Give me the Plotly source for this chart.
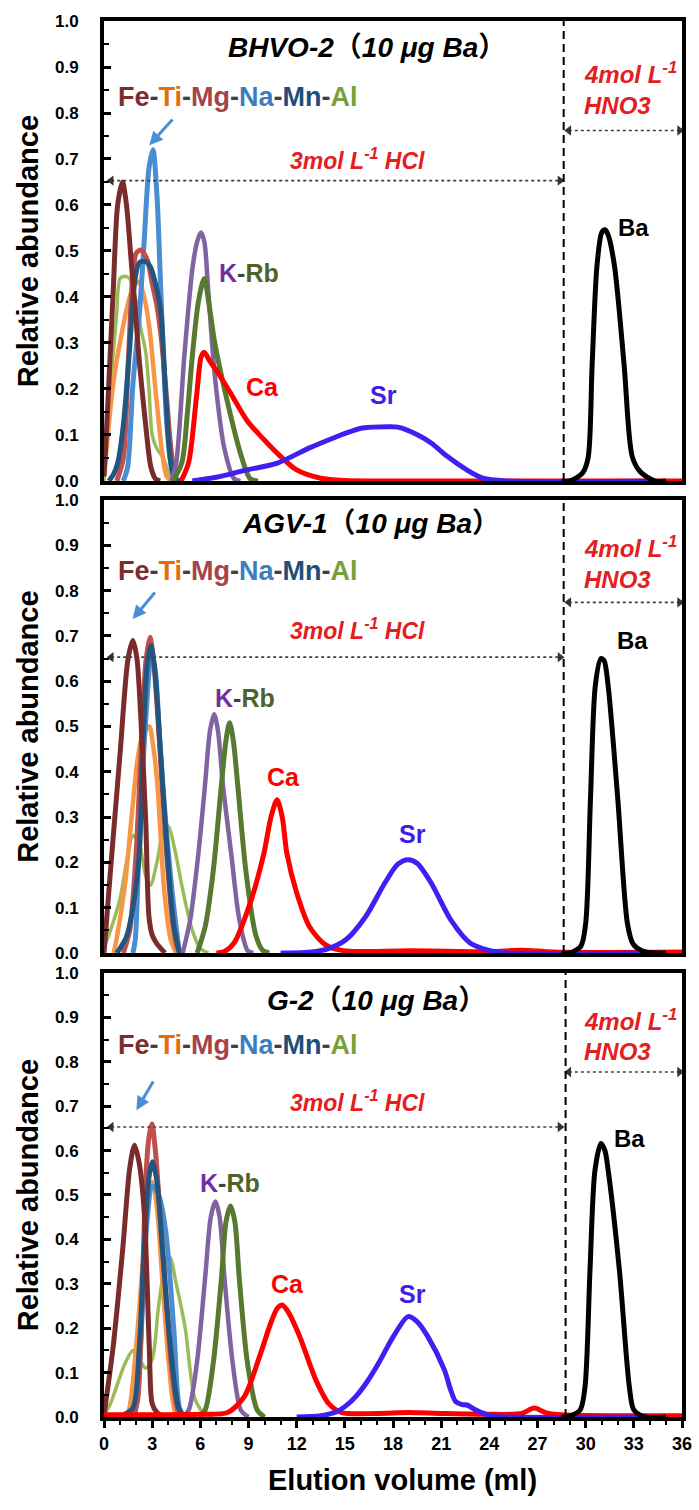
import plotly.graph_objects as go

# ---------------- data (elution volume ml, relative abundance) ----------------
# BHVO-2
bh_fe_v = [0, 0.06, 0.27, 0.57, 0.85, 1.15, 1.4, 1.69, 1.95, 2.2, 2.6, 2.92, 3.2, 3.5]
bh_fe_a = [0.01, 0.045, 0.19, 0.41, 0.6, 0.65, 0.6, 0.48, 0.37, 0.26, 0.12, 0.03, 0.005, 0]
bh_ti_v = [0, 0.16, 0.5, 0.78, 1.1, 1.39, 1.8, 2.16, 2.5, 2.82, 3.23, 3.63, 3.9, 4.2]
bh_ti_a = [0.01, 0.07, 0.19, 0.26, 0.32, 0.37, 0.42, 0.433, 0.4, 0.335, 0.19, 0.06, 0.01, 0]
bh_mg_v = [0.8, 1.2, 1.5, 1.8, 2.0, 2.3, 2.7, 3.0, 3.3, 3.6, 3.9, 4.2, 4.5, 4.8]
bh_mg_a = [0, 0.05, 0.25, 0.45, 0.495, 0.502, 0.48, 0.43, 0.38, 0.3, 0.18, 0.06, 0.005, 0]
bh_na_v = [1.2, 1.47, 1.8, 2.2, 2.5, 2.8, 3.05, 3.3, 3.5, 3.7, 3.94, 4.2, 4.5]
bh_na_a = [0, 0.03, 0.21, 0.36, 0.52, 0.68, 0.72, 0.62, 0.45, 0.27, 0.11, 0.03, 0]
bh_mn_v = [0.3, 0.6, 0.86, 1.2, 1.59, 1.9, 2.2, 2.6, 2.9, 3.2, 3.53, 3.84, 4.14, 4.4, 4.7]
bh_mn_a = [0, 0.015, 0.04, 0.12, 0.285, 0.43, 0.475, 0.477, 0.465, 0.43, 0.37, 0.19, 0.045, 0.005, 0]
bh_al_v = [0, 0.16, 0.37, 0.78, 1.0, 1.3, 1.6, 2.0, 2.3, 2.6, 2.8, 3.0, 3.3, 3.7, 4.0, 4.3]
bh_al_a = [0, 0.07, 0.19, 0.36, 0.44, 0.445, 0.44, 0.39, 0.33, 0.28, 0.2, 0.1, 0.07, 0.05, 0.02, 0]
bh_k_v = [4.2, 4.5, 5.0, 5.5, 5.8, 6.04, 6.25, 6.5, 6.9, 7.5, 8.1, 8.5]
bh_k_a = [0, 0.04, 0.27, 0.46, 0.52, 0.54, 0.52, 0.41, 0.23, 0.07, 0.005, 0]
bh_rb_v = [4.3, 4.85, 5.2, 5.47, 5.88, 6.24, 6.6, 6.9, 7.7, 8.5, 9.1, 9.6]
bh_rb_a = [0, 0.04, 0.15, 0.26, 0.39, 0.44, 0.37, 0.3, 0.17, 0.06, 0.005, 0]
bh_ca_v = [4.8, 5.27, 5.78, 6.05, 6.24, 6.6, 7.1, 7.9, 8.94, 9.96, 10.8, 12.0, 13.5, 15, 17, 36]
bh_ca_a = [0, 0.04, 0.19, 0.27, 0.28, 0.26, 0.235, 0.19, 0.13, 0.09, 0.06, 0.024, 0.006, 0.001, 0, 0]
bh_sr_v = [5.5, 7, 8.9, 10.8, 12.8, 14.25, 15.06, 16.1, 17.7, 18.3, 19.55, 20.4, 21.4, 22.6, 23.6, 25, 34]
bh_sr_a = [0, 0.008, 0.024, 0.039, 0.072, 0.093, 0.104, 0.115, 0.118, 0.117, 0.1, 0.082, 0.053, 0.024, 0.006, 0, 0]
bh_ba_v = [28.5, 29.0, 29.8, 30.15, 30.4, 30.7, 31.0, 31.2, 31.4, 31.8, 32.4, 32.9, 33.4, 34.3, 35]
bh_ba_a = [0, 0, 0.017, 0.05, 0.25, 0.466, 0.54, 0.546, 0.535, 0.466, 0.25, 0.053, 0.02, 0, 0]

# AGV-1
ag_fe_v = [0, 0.4, 1.0, 1.5, 1.8, 2.05, 2.3, 2.6, 2.8, 3.0, 3.3, 3.8]
ag_fe_a = [0, 0.18, 0.44, 0.65, 0.69, 0.65, 0.515, 0.29, 0.08, 0.04, 0.02, 0]
ag_ti_v = [0.6, 0.78, 1.29, 1.8, 2.1, 2.4, 2.82, 3.05, 3.33, 3.73, 4.15, 4.5]
ag_ti_a = [0, 0.03, 0.146, 0.33, 0.43, 0.48, 0.5, 0.46, 0.37, 0.146, 0.03, 0]
ag_mg_v = [1.2, 1.6, 2.0, 2.3, 2.6, 2.86, 3.1, 3.5, 3.9, 4.3, 4.65, 5.0]
ag_mg_a = [0, 0.05, 0.22, 0.44, 0.64, 0.697, 0.64, 0.44, 0.22, 0.06, 0.005, 0]
ag_na_v = [1.8, 1.95, 2.2, 2.6, 2.95, 3.2, 3.5, 3.84, 4.35, 4.7]
ag_na_a = [0, 0.03, 0.25, 0.515, 0.66, 0.62, 0.45, 0.29, 0.1, 0]
ag_mn_v = [0.8, 1.39, 1.8, 2.2, 2.4, 2.7, 2.92, 3.15, 3.53, 3.94, 4.35, 4.7]
ag_mn_a = [0, 0.035, 0.1, 0.22, 0.44, 0.64, 0.678, 0.63, 0.44, 0.22, 0.06, 0]
ag_al_v = [0, 0.5, 1.0, 1.5, 1.8, 2.2, 2.6, 2.9, 3.3, 3.7, 4.0, 4.4, 4.9, 5.5, 6.0, 6.5]
ag_al_a = [0.01, 0.06, 0.12, 0.22, 0.26, 0.24, 0.17, 0.15, 0.2, 0.27, 0.28, 0.23, 0.14, 0.05, 0.01, 0]
ag_k_v = [4.9, 5.37, 5.88, 6.29, 6.6, 6.86, 7.1, 7.41, 7.92, 8.43, 8.95, 9.3]
ag_k_a = [0, 0.073, 0.22, 0.37, 0.49, 0.527, 0.49, 0.37, 0.22, 0.073, 0.005, 0]
ag_rb_v = [5.8, 6.3, 6.8, 7.31, 7.6, 7.82, 8.05, 8.33, 8.84, 9.45, 9.9, 10.3]
ag_rb_a = [0, 0.058, 0.18, 0.37, 0.47, 0.508, 0.47, 0.37, 0.18, 0.04, 0.005, 0]
ag_ca_v = [7.0, 7.5, 8.1, 9.1, 9.96, 10.4, 10.78, 11.1, 11.39, 12.0, 12.8, 13.8, 14.9, 16, 19, 24, 26, 28, 36]
ag_ca_a = [0, 0.003, 0.022, 0.11, 0.22, 0.3, 0.338, 0.3, 0.22, 0.133, 0.058, 0.018, 0.005, 0.003, 0.005, 0.003, 0.006, 0.002, 0.002]
ag_sr_v = [11, 12.5, 13.84, 15.06, 16.29, 17.5, 18.3, 18.94, 19.5, 20.37, 21.6, 22.8, 24.05, 25, 34]
ag_sr_a = [0, 0.001, 0.008, 0.029, 0.08, 0.155, 0.196, 0.206, 0.198, 0.155, 0.073, 0.022, 0.005, 0, 0]
ag_ba_v = [28.5, 29.0, 29.7, 30.0, 30.3, 30.6, 30.95, 31.15, 31.4, 32.0, 32.6, 32.95, 33.5, 34.3, 35]
ag_ba_a = [0, 0, 0.015, 0.065, 0.34, 0.59, 0.65, 0.645, 0.59, 0.34, 0.065, 0.02, 0.005, 0, 0]

# G-2
g2_fe_v = [0, 0.57, 1.18, 1.6, 1.9, 2.2, 2.51, 2.82, 3.0, 3.3, 3.8]
g2_fe_a = [0.005, 0.158, 0.384, 0.56, 0.612, 0.57, 0.459, 0.158, 0.03, 0.01, 0]
g2_ti_v = [1.2, 1.5, 2.0, 2.41, 2.75, 3.0, 3.3, 3.63, 4.04, 4.45, 4.8]
g2_ti_a = [0, 0.01, 0.158, 0.346, 0.5, 0.53, 0.47, 0.31, 0.12, 0.01, 0]
g2_mg_v = [1.8, 2.1, 2.4, 2.6, 2.8, 2.98, 3.2, 3.5, 3.9, 4.3, 4.65, 5.0]
g2_mg_a = [0, 0.04, 0.3, 0.534, 0.63, 0.66, 0.6, 0.45, 0.25, 0.08, 0.01, 0]
g2_na_v = [1.9, 2.1, 2.4, 2.7, 3.0, 3.4, 3.84, 4.35, 4.7, 5.0]
g2_na_a = [0, 0.05, 0.25, 0.45, 0.52, 0.5, 0.42, 0.196, 0.02, 0]
g2_mn_v = [1.2, 1.8, 2.2, 2.51, 2.8, 3.02, 3.3, 3.63, 4.14, 4.65, 5.0]
g2_mn_a = [0.005, 0.02, 0.158, 0.384, 0.54, 0.575, 0.53, 0.384, 0.158, 0.02, 0]
g2_al_v = [0, 0.4, 0.8, 1.3, 1.8, 2.2, 2.6, 3.0, 3.4, 3.8, 4.1, 4.5, 5.06, 5.67, 6.3, 6.8]
g2_al_a = [0.005, 0.03, 0.07, 0.12, 0.15, 0.13, 0.11, 0.13, 0.25, 0.34, 0.36, 0.3, 0.2, 0.04, 0.005, 0]
g2_k_v = [4.9, 5.27, 5.78, 6.29, 6.65, 6.94, 7.2, 7.51, 8.02, 8.53, 9.0]
g2_k_a = [0, 0.015, 0.12, 0.31, 0.45, 0.485, 0.45, 0.31, 0.12, 0.015, 0]
g2_rb_v = [5.9, 6.29, 6.8, 7.31, 7.6, 7.88, 8.15, 8.43, 8.94, 9.55, 10.0]
g2_rb_a = [0, 0.015, 0.12, 0.31, 0.44, 0.475, 0.44, 0.31, 0.12, 0.015, 0]
g2_ca_v = [0, 3, 6, 7.7, 8.74, 9.76, 10.37, 10.8, 11.1, 11.5, 12.2, 13.2, 14.0, 14.8, 17, 19, 21, 24, 26, 26.8, 27.5, 28.5, 36]
g2_ca_a = [0.005, 0.005, 0.006, 0.01, 0.046, 0.144, 0.21, 0.245, 0.252, 0.235, 0.18, 0.083, 0.03, 0.01, 0.008, 0.01, 0.008, 0.006, 0.008, 0.02, 0.01, 0.005, 0.003]
g2_sr_v = [12, 13.5, 14.5, 15.06, 15.68, 16.4, 17.1, 18.0, 18.94, 19.5, 20.17, 21.2, 21.6, 21.9, 22.3, 22.6, 23.2, 24.05, 25, 34]
g2_sr_a = [0, 0.003, 0.012, 0.025, 0.046, 0.08, 0.121, 0.18, 0.226, 0.215, 0.181, 0.106, 0.06, 0.035, 0.028, 0.027, 0.015, 0.003, 0, 0]
g2_ba_v = [28.5, 29.0, 29.66, 29.96, 30.27, 30.58, 30.95, 31.2, 31.4, 32.1, 32.72, 33.0, 33.7, 35]
g2_ba_a = [0, 0.002, 0.016, 0.068, 0.331, 0.556, 0.616, 0.6, 0.556, 0.331, 0.068, 0.016, 0, 0]

samples = ["BHVO-2", "AGV-1", "G-2"]
x_ticks = [0, 3, 6, 9, 12, 15, 18, 21, 24, 27, 30, 33, 36]
y_ticks = [0.0, 0.1, 0.2, 0.3, 0.4, 0.5, 0.6, 0.7, 0.8, 0.9, 1.0]
hcl_span = [0.45, 28.4]      # 3 mol/L HCl elution range
hno3_span = [28.95, 35.85]   # 4 mol/L HNO3 elution range
switch_v = [28.63, 28.63, 28.75]

# ---------------- styling ----------------
order = ["Al", "Ti", "Na", "Mg", "Mn", "Fe", "K", "Rb", "Ca", "Sr", "Ba"]
colors = {"Fe": "#7A2B2B", "Ti": "#F79646", "Mg": "#C0504D", "Na": "#4A8DD2",
          "Mn": "#24557F", "Al": "#9BBB59", "K": "#8064A2", "Rb": "#587A30",
          "Ca": "#FF0000", "Sr": "#4020F0", "Ba": "#000000"}
widths = {"Fe": 5, "Ti": 4.5, "Mg": 5, "Na": 5, "Mn": 5, "Al": 3.5, "K": 4.5,
          "Rb": 5, "Ca": 5, "Sr": 5, "Ba": 5}

data = [
    {"Fe": (bh_fe_v, bh_fe_a), "Ti": (bh_ti_v, bh_ti_a), "Mg": (bh_mg_v, bh_mg_a),
     "Na": (bh_na_v, bh_na_a), "Mn": (bh_mn_v, bh_mn_a), "Al": (bh_al_v, bh_al_a),
     "K": (bh_k_v, bh_k_a), "Rb": (bh_rb_v, bh_rb_a), "Ca": (bh_ca_v, bh_ca_a),
     "Sr": (bh_sr_v, bh_sr_a), "Ba": (bh_ba_v, bh_ba_a)},
    {"Fe": (ag_fe_v, ag_fe_a), "Ti": (ag_ti_v, ag_ti_a), "Mg": (ag_mg_v, ag_mg_a),
     "Na": (ag_na_v, ag_na_a), "Mn": (ag_mn_v, ag_mn_a), "Al": (ag_al_v, ag_al_a),
     "K": (ag_k_v, ag_k_a), "Rb": (ag_rb_v, ag_rb_a), "Ca": (ag_ca_v, ag_ca_a),
     "Sr": (ag_sr_v, ag_sr_a), "Ba": (ag_ba_v, ag_ba_a)},
    {"Fe": (g2_fe_v, g2_fe_a), "Ti": (g2_ti_v, g2_ti_a), "Mg": (g2_mg_v, g2_mg_a),
     "Na": (g2_na_v, g2_na_a), "Mn": (g2_mn_v, g2_mn_a), "Al": (g2_al_v, g2_al_a),
     "K": (g2_k_v, g2_k_a), "Rb": (g2_rb_v, g2_rb_a), "Ca": (g2_ca_v, g2_ca_a),
     "Sr": (g2_sr_v, g2_sr_a), "Ba": (g2_ba_v, g2_ba_a)},
]

FONT = "Liberation Sans, Arial, Noto Sans CJK SC, sans-serif"
W, H = 699, 1510
ML, MR, MT, MB = 104, 7, 21, 93
domains = [[0.6705, 1.0], [0.3324, 0.6569], [0.0, 0.3181]]

fig = go.Figure()
for p in range(3):
    xa = "x" if p == 0 else f"x{p+1}"
    ya = "y" if p == 0 else f"y{p+1}"
    for el in order:
        v, a = data[p][el]
        fig.add_trace(go.Scatter(x=v, y=a, mode="lines", xaxis=xa, yaxis=ya,
                                 line=dict(color=colors[el], width=widths[el],
                                           shape="spline", smoothing=0.8),
                                 showlegend=False, hoverinfo="skip"))

# per-panel annotation positions (data units)
ann = [
    dict(title=(16.4, 0.943), feti=(8.33, 0.835), hcl=(15.8, 0.70), mol=(29.8, 0.887),
         hno=(29.8, 0.817), hno_y=0.762, krb=(9.0, 0.452), ca=(9.86, 0.204),
         sr=(17.4, 0.187), ba=(32.95, 0.55), arr=((2.82, 0.73), (4.35, 0.789))),
    dict(title=(16.6, 0.949), feti=(8.33, 0.843), hcl=(15.8, 0.715), mol=(29.8, 0.896),
         hno=(29.8, 0.825), hno_y=0.774, krb=(8.76, 0.562), ca=(11.2, 0.389),
         sr=(19.2, 0.263), ba=(32.9, 0.69), arr=((1.78, 0.737), (3.25, 0.799))),
    dict(title=(16.96, 0.939), feti=(8.33, 0.838), hcl=(15.8, 0.712), mol=(29.76, 0.894),
         hno=(29.76, 0.822), hno_y=0.777, krb=(7.84, 0.527), ca=(11.45, 0.30),
         sr=(19.2, 0.277), ba=(32.7, 0.628), arr=((2.02, 0.691), (3.12, 0.759))),
]

feti = ('<b><span style="color:#7B2C2C">Fe</span><span style="color:#404040">-</span>'
        '<span style="color:#E46C0A">Ti</span><span style="color:#404040">-</span>'
        '<span style="color:#A8424A">Mg</span><span style="color:#404040">-</span>'
        '<span style="color:#3C7DBF">Na</span><span style="color:#404040">-</span>'
        '<span style="color:#1F4E79">Mn</span><span style="color:#404040">-</span>'
        '<span style="color:#77A03B">Al</span></b>')
krb = ('<b><span style="color:#7030A0">K</span><span style="color:#404040">-</span>'
       '<span style="color:#4F6228">Rb</span></b>')
RED = "#E2201F"

annotations = []
shapes = []
for p in range(3):
    xr = "x" if p == 0 else f"x{p+1}"
    yr = "y" if p == 0 else f"y{p+1}"
    A = ann[p]

    def txt(pos, text, size, color, xanchor="center"):
        annotations.append(dict(x=pos[0], y=pos[1], xref=xr, yref=yr, text=text,
                                showarrow=False, xanchor=xanchor, yanchor="middle",
                                font=dict(family=FONT, size=size, color=color)))

    title = f"<b><i>{samples[p]}</i>（<i>10 μg Ba</i>）</b>"
    txt(A["title"], title, 28, "#000000")
    txt(A["feti"], feti, 27, "#000000")
    txt(A["hcl"], "<b><i>3mol L<sup>-1</sup> HCl</i></b>", 23, RED)
    txt(A["mol"], "<b><i>4mol L<sup>-1</sup></i></b>", 24, RED, "left")
    txt(A["hno"], "<b><i>HNO3</i></b>", 24, RED, "left")
    txt(A["krb"], krb, 25, "#000000")
    txt(A["ca"], "<b>Ca</b>", 25, "#FF0000")
    txt(A["sr"], "<b>Sr</b>", 25, "#3C1EE6")
    txt(A["ba"], "<b>Ba</b>", 24, "#000000")

    # blue pointer arrow
    tip, tail = A["arr"]
    annotations.append(dict(x=tip[0], y=tip[1], ax=tail[0], ay=tail[1], xref=xr, yref=yr,
                            axref=xr, ayref=yr, text="", showarrow=True, arrowhead=2,
                            arrowsize=0.9, arrowwidth=3, arrowcolor="#4A8FD6"))

    # dotted double arrows (HCl and HNO3 ranges)
    for span, yy in ((hcl_span, 0.653), (hno3_span, A["hno_y"])):
        fig.add_trace(go.Scatter(x=span, y=[yy, yy], xaxis=xr, yaxis=yr, mode="lines+markers",
                                 line=dict(color="#404040", width=1.6, dash="dot"),
                                 marker=dict(symbol=["triangle-left", "triangle-right"], size=9,
                                             color="#333333"),
                                 showlegend=False, hoverinfo="skip"))

    # dashed switch line
    shapes.append(dict(type="line", xref=xr, yref=f"{yr} domain", x0=switch_v[p], x1=switch_v[p],
                       y0=0, y1=1, line=dict(color="#000000", width=2, dash="8px,5px")))

    # y-axis title
    d = domains[p]
    annotations.append(dict(x=(27 - ML) / (W - ML - MR), y=(d[0] + d[1]) / 2, xref="paper",
                            yref="paper", text="<b>Relative abundance</b>", showarrow=False,
                            textangle=-90, xanchor="center", yanchor="middle",
                            font=dict(family=FONT, size=29, color="#000000")))

annotations.append(dict(x=(408 - ML) / (W - ML - MR), y=-(1480 - 1417) / (H - MT - MB),
                        xref="paper", yref="paper", text="<b>Elution volume (ml)</b>",
                        showarrow=False, xanchor="center", yanchor="middle",
                        font=dict(family=FONT, size=29, color="#000000")))

layout = dict(width=W, height=H, margin=dict(l=ML, r=MR, t=MT, b=MB),
              paper_bgcolor="white", plot_bgcolor="white", showlegend=False,
              annotations=annotations, shapes=shapes)

for p in range(3):
    xk = "xaxis" if p == 0 else f"xaxis{p+1}"
    yk = "yaxis" if p == 0 else f"yaxis{p+1}"
    ya = "y" if p == 0 else f"y{p+1}"
    xa = "x" if p == 0 else f"x{p+1}"
    bottom = (p == 2)
    layout[xk] = dict(domain=[0, 1], anchor=ya, range=[0, 36], showgrid=False, zeroline=False,
                      showline=True, linecolor="black", linewidth=4, mirror=True,
                      tickmode="array", tickvals=x_ticks,
                      ticktext=[str(t) for t in x_ticks] if bottom else None,
                      showticklabels=bottom, ticks="outside" if bottom else "",
                      ticklen=7, tickwidth=3, tickcolor="black",
                      minor=dict(ticks="outside" if bottom else "", dtick=1, ticklen=4,
                                 tickwidth=2, tickcolor="black", showgrid=False),
                      tickfont=dict(family=FONT, size=18, color="black", weight="bold"))
    layout[yk] = dict(domain=domains[p], anchor=xa, range=[0, 1.0], showgrid=False,
                      zeroline=False, showline=True, linecolor="black", linewidth=4,
                      mirror=True, tickmode="array", tickvals=y_ticks,
                      ticktext=[f"{t:.1f}" for t in y_ticks], ticks="inside", ticklen=7,
                      tickwidth=3, tickcolor="black", ticklabelstandoff=18,
                      minor=dict(ticks="inside", dtick=0.05, ticklen=5, tickwidth=2,
                                 tickcolor="black", showgrid=False),
                      tickfont=dict(family=FONT, size=17, color="black", weight="bold"))

fig.update_layout(**layout)
fig.write_html("out.html")
